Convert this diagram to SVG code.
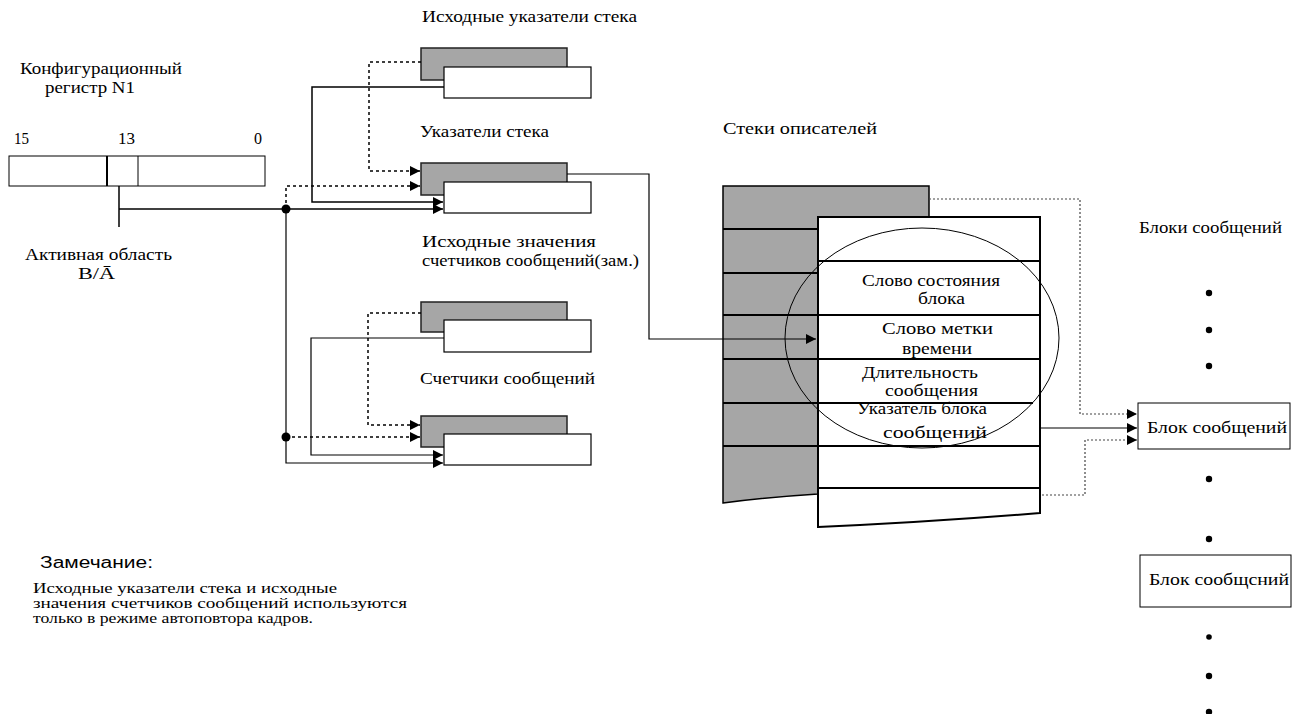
<svg xmlns="http://www.w3.org/2000/svg" width="1300" height="714" viewBox="0 0 1300 714">
<style>
text{font-family:"Liberation Serif","Times New Roman",serif;font-size:16px;fill:#000}
.sans{font-family:"Liberation Sans",Arial,sans-serif;font-size:16px}
.note{font-size:14px}
.gray{fill:#a6a6a6;stroke:#222;stroke-width:1.5}
.wbox{fill:#fff;stroke:#000;stroke-width:1.2}
.ln{fill:none;stroke:#000;stroke-width:1.5}
.thin{fill:none;stroke:#000;stroke-width:1.2}
.dash{fill:none;stroke:#000;stroke-width:1.5;stroke-dasharray:3,3}
.dot{fill:none;stroke:#444;stroke-width:1.2;stroke-dasharray:2,2}
.row{stroke:#000;stroke-width:2}
</style>
<defs>
<marker id="ah" viewBox="0 0 10 10" refX="10" refY="5" markerWidth="11" markerHeight="10" markerUnits="userSpaceOnUse" orient="auto">
<path d="M0,0 L10,5 L0,10 z" fill="#000"/>
</marker>
</defs>
<rect width="1300" height="714" fill="#fff"/>

<g id="register">
<text x="20" y="74" textLength="162" lengthAdjust="spacingAndGlyphs">Конфигурационный</text>
<text x="45" y="93" textLength="90" lengthAdjust="spacingAndGlyphs">регистр N1</text>
<text x="14" y="144" textLength="15" lengthAdjust="spacingAndGlyphs">15</text>
<text x="118" y="144" textLength="17" lengthAdjust="spacingAndGlyphs">13</text>
<text x="254" y="144">0</text>
<rect x="9" y="156" width="256" height="30" fill="#fff" stroke="#000" stroke-width="1"/>
<line x1="107" y1="156" x2="107" y2="186" stroke="#000" stroke-width="2"/>
<line x1="138" y1="156" x2="138" y2="186" stroke="#000" stroke-width="1"/>
<text x="25" y="260" textLength="147" lengthAdjust="spacingAndGlyphs">Активная область</text>
<text x="78" y="279" textLength="37" lengthAdjust="spacingAndGlyphs">B/Ā</text>
</g>

<g id="init-stack-pointers">
<text x="422" y="22" textLength="215" lengthAdjust="spacingAndGlyphs">Исходные указатели стека</text>
<rect class="gray" x="421" y="48" width="146" height="32"/>
<rect class="wbox" x="444" y="67" width="147" height="31"/>
</g>

<g id="stack-pointers">
<text x="420" y="137" textLength="129" lengthAdjust="spacingAndGlyphs">Указатели стека</text>
<rect class="gray" x="421" y="163" width="146" height="32"/>
<rect class="wbox" x="444" y="182" width="147" height="31"/>
</g>

<g id="init-counters">
<text x="422" y="247" textLength="174" lengthAdjust="spacingAndGlyphs">Исходные значения</text>
<text x="422" y="266" textLength="217" lengthAdjust="spacingAndGlyphs">счетчиков сообщений(зам.)</text>
<rect class="gray" x="421" y="302" width="146" height="30"/>
<rect class="wbox" x="444" y="320" width="147" height="32"/>
</g>

<g id="counters">
<text x="420" y="384" textLength="175" lengthAdjust="spacingAndGlyphs">Счетчики сообщений</text>
<rect class="gray" x="421" y="416" width="146" height="31"/>
<rect class="wbox" x="444" y="434" width="147" height="31"/>
</g>

<g id="descriptor-stacks">
<text x="723" y="134" textLength="154" lengthAdjust="spacingAndGlyphs">Стеки описателей</text>
<path d="M723,186 H929 V217 H818 V494 Q770,497 723,503 Z" fill="#a6a6a6" stroke="#000" stroke-width="1.5"/>
<path d="M818,217 H1040 V513 Q930,522 818,527 Z" fill="#fff" stroke="#000" stroke-width="2"/>
<line class="row" x1="723" y1="229" x2="818" y2="229"/>
<line class="row" x1="818" y1="261" x2="1040" y2="261"/>
<line class="row" x1="723" y1="273" x2="818" y2="273"/>
<line class="row" x1="723" y1="315" x2="1040" y2="315"/>
<line class="row" x1="723" y1="359" x2="1040" y2="359"/>
<line class="row" x1="723" y1="403" x2="1033" y2="403"/>
<line class="row" x1="723" y1="446" x2="1040" y2="446"/>
<line class="row" x1="818" y1="488" x2="1040" y2="488"/>
<text x="862" y="286" textLength="138" lengthAdjust="spacingAndGlyphs">Слово состояния</text>
<text x="918" y="304" textLength="47" lengthAdjust="spacingAndGlyphs">блока</text>
<text x="882" y="334" textLength="111" lengthAdjust="spacingAndGlyphs">Слово метки</text>
<text x="902" y="354" textLength="70" lengthAdjust="spacingAndGlyphs">времени</text>
<text x="862" y="378" textLength="116" lengthAdjust="spacingAndGlyphs">Длительность</text>
<text x="885" y="396" textLength="93" lengthAdjust="spacingAndGlyphs">сообщения</text>
<text x="857" y="414" textLength="130" lengthAdjust="spacingAndGlyphs">Указатель блока</text>
<text x="883" y="438" textLength="104" lengthAdjust="spacingAndGlyphs">сообщений</text>
<ellipse cx="922" cy="338" rx="137" ry="110" fill="none" stroke="#000" stroke-width="1"/>
</g>

<g id="message-blocks">
<text x="1139" y="233" textLength="143" lengthAdjust="spacingAndGlyphs">Блоки сообщений</text>
<circle cx="1209" cy="293" r="3.2" fill="#000"/>
<circle cx="1209" cy="330" r="3.2" fill="#000"/>
<circle cx="1209" cy="366" r="3.2" fill="#000"/>
<circle cx="1209" cy="479" r="3.2" fill="#000"/>
<circle cx="1209" cy="539" r="3.2" fill="#000"/>
<circle cx="1209" cy="637" r="2.8" fill="#000"/>
<circle cx="1209" cy="676" r="3.2" fill="#000"/>
<circle cx="1209" cy="712" r="3.2" fill="#000"/>
</g>

<g id="block1">
<rect x="1138" y="403" width="152" height="46" fill="#fff" stroke="#000" stroke-width="1"/>
<text x="1147" y="433" textLength="140" lengthAdjust="spacingAndGlyphs">Блок  сообщений</text>
</g>

<g id="block2">
<rect x="1140" y="555" width="151" height="52" fill="#fff" stroke="#000" stroke-width="1"/>
<text x="1149" y="585" textLength="140" lengthAdjust="spacingAndGlyphs">Блок  сообщсний</text>
</g>

<g id="note">
<text x="40" y="568" class="sans" textLength="113" lengthAdjust="spacingAndGlyphs">Замечание:</text>
<text x="33" y="593" class="note" textLength="304" lengthAdjust="spacingAndGlyphs">Исходные указатели стека и исходные</text>
<text x="33" y="608" class="note" textLength="374" lengthAdjust="spacingAndGlyphs">значения счетчиков сообщений используются</text>
<text x="33" y="623" class="note" textLength="280" lengthAdjust="spacingAndGlyphs">только в  режиме автоповтора кадров.</text>
</g>

<g id="connectors">
<path class="ln" d="M119,186 V227"/>
<path class="ln" d="M119,209 H443" marker-end="url(#ah)"/>
<path class="thin" d="M286,209 V463 H443" marker-end="url(#ah)"/>
<path class="dash" d="M286,209 V186 H420" marker-end="url(#ah)"/>
<path class="ln" d="M444,87 H312 V202 H443" marker-end="url(#ah)"/>
<path class="dash" d="M421,62 H369 V171 H420" marker-end="url(#ah)"/>
<path class="thin" d="M567,174 H649 V339 H816" marker-end="url(#ah)"/>
<path class="thin" d="M444,338 H311 V455 H443" marker-end="url(#ah)"/>
<path class="dash" d="M421,313 H368 V425 H420" marker-end="url(#ah)"/>
<path class="dash" d="M286,437 H420" marker-end="url(#ah)"/>
<circle cx="286" cy="209" r="4.5" fill="#000"/>
<circle cx="286" cy="437" r="4.5" fill="#000"/>
<path class="dot" d="M929,199 H1080 V414 H1137" marker-end="url(#ah)"/>
<path class="thin" d="M1040,428 H1137" marker-end="url(#ah)"/>
<path class="dot" d="M1042,495 H1085 V440 H1137" marker-end="url(#ah)"/>
</g>
</svg>
